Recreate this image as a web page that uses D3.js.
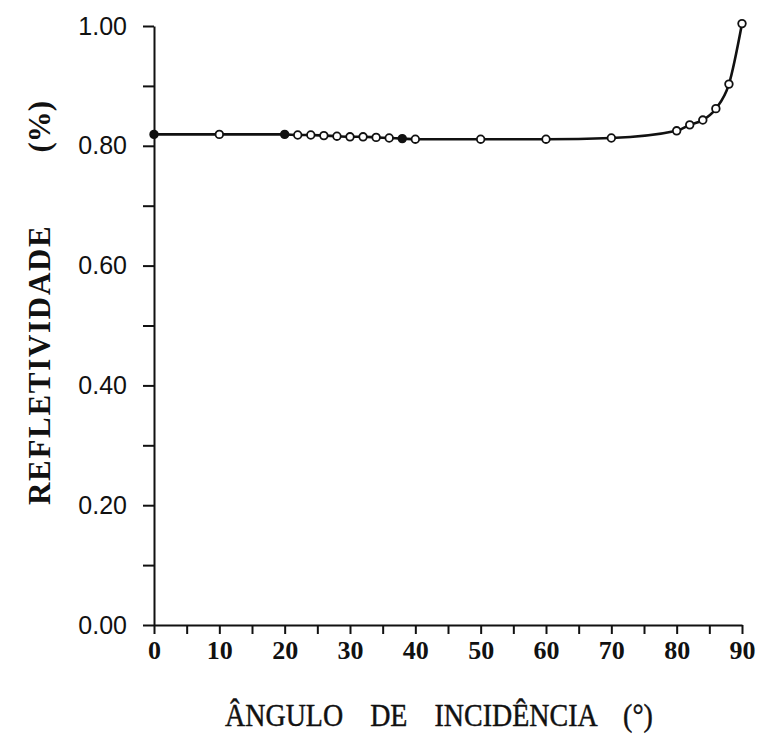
<!DOCTYPE html>
<meta charset="utf-8">
<style>
body { margin: 0; background: #fff; }
.axis path, .axis line { stroke: #111; stroke-width: 2px; }
.axis text { fill: #111; }
.ytick text { font-family: "Liberation Sans", Arial, sans-serif; font-size: 25px; }
.xtick text { font-family: "Liberation Serif", serif; font-size: 26px; font-weight: bold; }
.title { font-family: "Liberation Serif", serif; fill: #111; }
</style>
<svg width="757" height="735"></svg>
<script src="https://d3js.org/d3.v7.min.js"></script>
<script>
// angle of incidence (deg) and reflectivity
var angles = [0, 10, 20, 22, 24, 26, 28, 30, 32, 34, 36, 38, 40, 50, 60, 70, 80, 82, 84, 86, 88, 90];
var reflect = [0.819, 0.819, 0.819, 0.818, 0.818, 0.817, 0.816, 0.815, 0.815, 0.814, 0.813, 0.812,
               0.811, 0.811, 0.811, 0.813, 0.825, 0.835, 0.843, 0.862, 0.903, 1.004];
var filled = [0, 20, 38];
var xTicks = [0, 5, 10, 15, 20, 25, 30, 35, 40, 45, 50, 55, 60, 65, 70, 75, 80, 85, 90];
var yTicks = [0, 0.1, 0.2, 0.3, 0.4, 0.5, 0.6, 0.7, 0.8, 0.9, 1.0];

var svg = d3.select("svg");

var x = d3.scaleLinear().domain([0, 90]).range([154, 742]);
var y = d3.scaleLinear().domain([0, 1]).range([625, 26]);

var data = angles.map(function(a, i) { return {a: a, r: reflect[i]}; });

// y axis
svg.append("g")
    .attr("class", "axis ytick")
    .attr("transform", "translate(" + x(0) + ",0)")
    .call(d3.axisLeft(y).tickValues(yTicks).tickSize(11).tickSizeOuter(0).tickPadding(16)
      .tickFormat(function(d) { return Math.round(d * 10) % 2 === 0 ? d3.format(".2f")(d) : ""; }));

// x axis
svg.append("g")
    .attr("class", "axis xtick")
    .attr("transform", "translate(0," + y(0) + ")")
    .call(d3.axisBottom(x).tickValues(xTicks).tickSize(9).tickSizeOuter(0).tickPadding(7)
      .tickFormat(function(d) { return d % 10 === 0 ? d : ""; }));

var line = d3.line()
    .x(function(d) { return x(d.a); })
    .y(function(d) { return y(d.r); })
    .curve(d3.curveMonotoneX);

svg.append("path")
    .datum(data)
    .attr("fill", "none")
    .attr("stroke", "#111")
    .attr("stroke-width", 2.6)
    .attr("d", line);

svg.append("g").selectAll("circle")
    .data(data)
  .enter().append("circle")
    .attr("cx", function(d) { return x(d.a); })
    .attr("cy", function(d) { return y(d.r); })
    .attr("r", 3.8)
    .attr("fill", function(d) { return filled.indexOf(d.a) >= 0 ? "#111" : "#fff"; })
    .attr("stroke", "#111")
    .attr("stroke-width", 1.8);

svg.append("text")
    .attr("class", "title")
    .attr("transform", "translate(225,726) scale(1,1.15)")
    .attr("font-size", 28)
    .attr("stroke", "#111")
    .attr("stroke-width", 0.4)
    .style("word-spacing", "20px")
    .text("ÂNGULO DE INCIDÊNCIA (°)");

var yt = svg.append("text")
    .attr("class", "title")
    .attr("transform", "translate(50,505) rotate(-90)")
    .attr("font-size", 31)
    .attr("font-weight", "bold");
yt.append("tspan").style("letter-spacing", "1.7px").text("REFLETIVIDADE");
yt.append("tspan").attr("dx", 72).text("(%)");
</script>
